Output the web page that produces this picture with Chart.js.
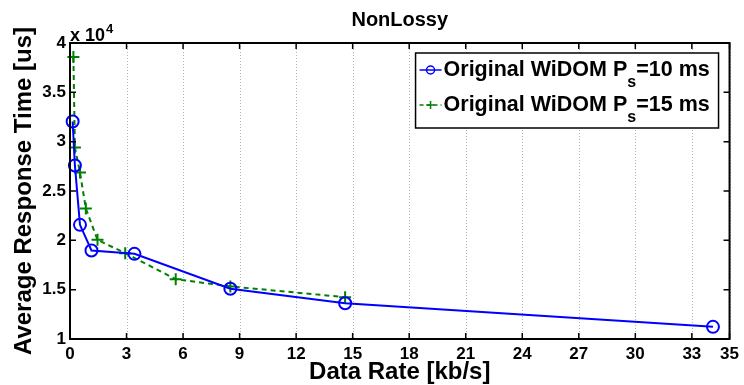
<!DOCTYPE html>
<html>
<head>
<meta charset="utf-8">
<script src="https://cdn.jsdelivr.net/npm/chart.js@4.4.1/dist/chart.umd.min.js"></script>
<style>
  body { margin: 0; background: #fff; }
</style>
</head>
<body>
<canvas id="rt-chart" width="744" height="385"></canvas>
<script>
// data (x in kb/s, y in us)
const rate10 = [0.14, 0.26, 0.53, 1.14, 3.42, 8.51, 14.6, 34.12];
const time10 = [32050, 27590, 21570, 18970, 18630, 15100, 13630, 11230];
const rate15 = [0.18, 0.26, 0.53, 0.84, 1.46, 2.93, 5.61, 8.51, 14.6];
const time15 = [38580, 29410, 26880, 23230, 20050, 18700, 16060, 15330, 14240];

const xTicks = [0, 3, 6, 9, 12, 15, 18, 21, 24, 27, 30, 33, 35];
const yTicks = [10000, 15000, 20000, 25000, 30000, 35000, 40000];

const labelHead = 'Original WiDOM P';
const labelSub = 's';
const labelTail = ['=10 ms', '=15 ms'];

const FONT = "'Liberation Sans', Arial, Helvetica, sans-serif";
const BLUE = '#0000ff';
const GREEN = '#008000';

Chart.defaults.font.family = FONT;
Chart.defaults.color = '#000';

function toXY(xs, ys) {
  return xs.map((v, i) => ({ x: v, y: ys[i] }));
}

// box around the axes, inward ticks, exponent label and the legend
const matlabFrame = {
  id: 'matlabFrame',
  beforeDatasetsDraw(chart) {
    // dotted vertical grid
    const { ctx, chartArea: a, scales: { x } } = chart;
    ctx.save();
    ctx.strokeStyle = '#b4b4b4';
    ctx.lineWidth = 1;
    ctx.setLineDash([1, 2]);
    ctx.beginPath();
    xTicks.forEach(v => {
      const px = Math.round(x.getPixelForValue(v)) + 0.5;
      ctx.moveTo(px, a.top);
      ctx.lineTo(px, a.bottom);
    });
    ctx.stroke();
    ctx.restore();
  },
  afterDraw(chart) {
    const { ctx, chartArea: a, scales: { x, y } } = chart;
    ctx.save();
    ctx.strokeStyle = '#000';
    ctx.lineWidth = 1.5;
    ctx.beginPath();
    xTicks.forEach(v => {
      const px = x.getPixelForValue(v);
      ctx.moveTo(px, a.bottom); ctx.lineTo(px, a.bottom - 6);
      ctx.moveTo(px, a.top); ctx.lineTo(px, a.top + 6);
    });
    yTicks.forEach(v => {
      const py = y.getPixelForValue(v);
      ctx.moveTo(a.left, py); ctx.lineTo(a.left + 6, py);
      ctx.moveTo(a.right, py); ctx.lineTo(a.right - 6, py);
    });
    ctx.stroke();
    ctx.lineWidth = 2;
    ctx.strokeRect(a.left, a.top, a.right - a.left, a.bottom - a.top);

    // x 10^4
    ctx.fillStyle = '#000';
    ctx.textBaseline = 'alphabetic';
    ctx.textAlign = 'left';
    ctx.font = 'bold 18px ' + FONT;
    ctx.fillText('x 10', a.left, a.top - 2);
    const w = ctx.measureText('x 10').width;
    ctx.font = 'bold 13px ' + FONT;
    ctx.fillText('4', a.left + w + 1, a.top - 10);

    // legend
    const bx = a.right - 314, by = a.top + 10, bw = 303, bh = 75;
    ctx.fillStyle = '#fff';
    ctx.fillRect(bx, by, bw, bh);
    ctx.lineWidth = 1.5;
    ctx.strokeRect(bx, by, bw, bh);
    labelTail.forEach((tail, i) => {
      const ry = by + 17 + i * 35;
      const color = i === 0 ? BLUE : GREEN;
      ctx.strokeStyle = color;
      ctx.lineWidth = 1.5;
      ctx.setLineDash(i === 0 ? [] : [4, 3]);
      ctx.beginPath();
      ctx.moveTo(bx + 4, ry); ctx.lineTo(bx + 26, ry);
      ctx.stroke();
      ctx.setLineDash([]);
      ctx.beginPath();
      const mx = bx + 15;
      if (i === 0) {
        ctx.arc(mx, ry, 4, 0, Math.PI * 2);
      } else {
        ctx.moveTo(mx - 4, ry); ctx.lineTo(mx + 4, ry);
        ctx.moveTo(mx, ry - 4); ctx.lineTo(mx, ry + 4);
      }
      ctx.stroke();

      ctx.fillStyle = '#000';
      ctx.textBaseline = 'middle';
      ctx.font = 'bold 21.5px ' + FONT;
      let tx = bx + 28;
      ctx.fillText(labelHead, tx, ry);
      tx += ctx.measureText(labelHead).width;
      ctx.font = 'bold 16px ' + FONT;
      ctx.fillText(labelSub, tx, ry + 13);
      tx += ctx.measureText(labelSub).width;
      ctx.font = 'bold 21.5px ' + FONT;
      ctx.fillText(tail, tx, ry);
    });
    ctx.restore();
  }
};

const config = {
  type: 'line',
  data: {
    datasets: [
      {
        label: 'Original WiDOM Ps=10 ms',
        data: toXY(rate10, time10),
        borderColor: BLUE,
        backgroundColor: 'rgba(0,0,0,0)',
        borderWidth: 2,
        pointStyle: 'circle',
        pointRadius: 6,
        pointBorderWidth: 2,
        pointBorderColor: BLUE,
        tension: 0,
        clip: false
      },
      {
        label: 'Original WiDOM Ps=15 ms',
        data: toXY(rate15, time15),
        borderColor: GREEN,
        backgroundColor: 'rgba(0,0,0,0)',
        borderWidth: 2,
        borderDash: [5, 4],
        pointStyle: 'cross',
        pointRadius: 6,
        pointBorderWidth: 2,
        pointBorderColor: GREEN,
        tension: 0,
        clip: false
      }
    ]
  },
  options: {
    responsive: false,
    animation: false,
    layout: { padding: { left: 0, right: 9, top: 0, bottom: 0 } },
    plugins: {
      legend: { display: false },
      tooltip: { enabled: false },
      title: {
        display: true,
        text: 'NonLossy',
        fullSize: false,
        font: { size: 20, weight: 'bold', lineHeight: 1.2 },
        padding: { top: 8, bottom: 11 }
      }
    },
    scales: {
      x: {
        type: 'linear',
        min: 0,
        max: 35,
        afterBuildTicks: scale => { scale.ticks = xTicks.map(v => ({ value: v })); },
        afterFit: scale => { scale.height = 46; },
        grid: { display: false, drawTicks: false },
        border: { display: false },
        ticks: {
          autoSkip: false,
          maxRotation: 0,
          padding: 5,
          font: { size: 17, weight: 'bold' }
        },
        title: {
          display: true,
          text: 'Data Rate [kb/s]',
          font: { size: 24, weight: 'bold', lineHeight: 1 },
          padding: { top: 0, bottom: 1 }
        }
      },
      y: {
        min: 10000,
        max: 40000,
        afterBuildTicks: scale => { scale.ticks = yTicks.map(v => ({ value: v })); },
        afterFit: scale => { scale.width = 70; },
        grid: { display: false, drawTicks: false },
        border: { display: false },
        ticks: {
          padding: 4,
          font: { size: 17, weight: 'bold' },
          callback: v => String(v / 10000)
        },
        title: {
          display: true,
          text: 'Average Response Time [us]',
          font: { size: 24, weight: 'bold', lineHeight: 1 },
          padding: { top: 12, bottom: 0 }
        }
      }
    }
  },
  plugins: [matlabFrame]
};

const ctx = document.getElementById('rt-chart').getContext('2d');
window.rtChart = new Chart(ctx, config);
</script>
</body>
</html>
